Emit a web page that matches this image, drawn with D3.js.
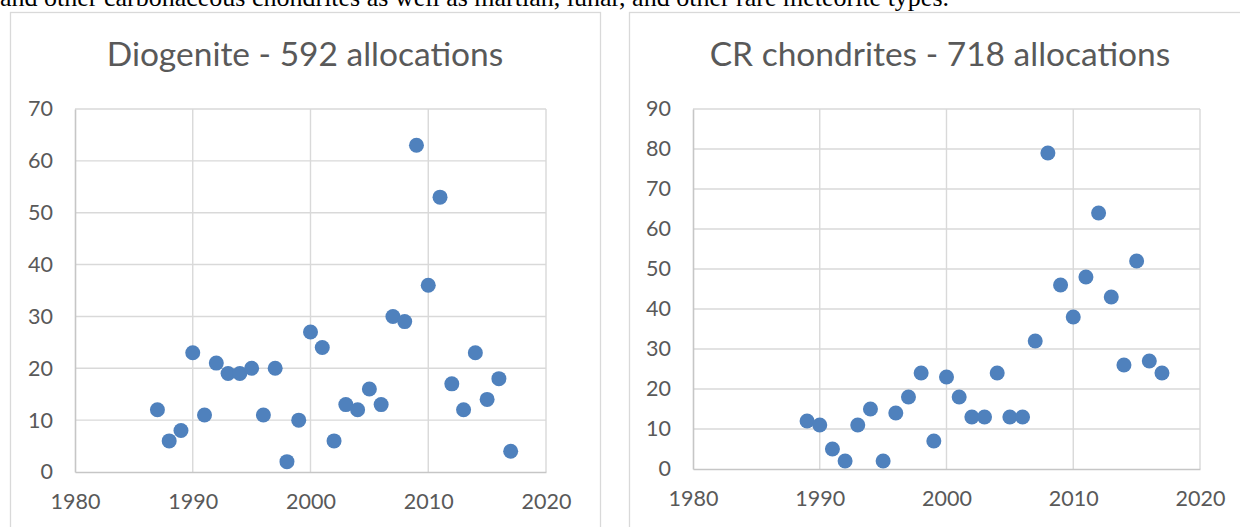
<!DOCTYPE html>
<html>
<head>
<meta charset="utf-8">
<script src="https://cdn.jsdelivr.net/npm/d3@7"></script>
<style>
	body { margin: 0; background: #fff; overflow: hidden; }
	svg { display: block; }
</style>
</head>
<body>
<svg id="chart" width="1240" height="527"></svg>
<script>
// DATA
let dioYears = [1987, 1988, 1989, 1990, 1991, 1992, 1993, 1994, 1995, 1996, 1997, 1998, 1999, 2000, 2001, 2002,
	2003, 2004, 2005, 2006, 2007, 2008, 2009, 2010, 2011, 2012, 2013, 2014, 2015, 2016, 2017];
let dioValues = [12, 6, 8, 23, 11, 21, 19, 19, 20, 11, 20, 2, 10, 27, 24, 6,
	13, 12, 16, 13, 30, 29, 63, 36, 53, 17, 12, 23, 14, 18, 4];

let crYears = [1989, 1990, 1991, 1992, 1993, 1994, 1995, 1996, 1997, 1998, 1999, 2000, 2001, 2002, 2003,
	2004, 2005, 2006, 2007, 2008, 2009, 2010, 2011, 2012, 2013, 2014, 2015, 2016, 2017];
let crValues = [12, 11, 5, 2, 11, 15, 2, 14, 18, 24, 7, 23, 18, 13, 13,
	24, 13, 13, 32, 79, 46, 38, 48, 64, 43, 26, 52, 27, 24];

let xTicks = [1980, 1990, 2000, 2010, 2020];
let dioYTicks = [0, 10, 20, 30, 40, 50, 60, 70];
let crYTicks = [0, 10, 20, 30, 40, 50, 60, 70, 80, 90];

let dioTitle = 'Diogenite - 592 allocations';
let crTitle = 'CR chondrites - 718 allocations';
let topText = 'and other carbonaceous chondrites as well as martian, lunar, and other rare meteorite types.';

let svg = d3.select('#chart');

// text line from the document above, cut off at the top
svg.append('text')
	.attr('x', 0)
	.attr('y', 6)
	.attr('font-family', '"Liberation Serif", "Times New Roman", serif')
	.attr('font-size', 26)
	.attr('fill', '#000')
	.text(topText);

function drawChart(cfg) {
	let g = svg.append('g');

	g.append('rect')
		.attr('x', cfg.box[0] + 0.5)
		.attr('y', cfg.box[1] + 0.5)
		.attr('width', cfg.box[2])
		.attr('height', cfg.box[3])
		.attr('fill', '#fff')
		.attr('stroke', '#d9d9d9')
		.attr('stroke-width', 1.3);

	g.append('text')
		.attr('x', cfg.box[0] + cfg.box[2] / 2)
		.attr('y', 66)
		.attr('text-anchor', 'middle')
		.attr('font-family', 'Lato, "Open Sans", sans-serif')
		.attr('font-size', 33.5)
		.attr('fill', '#595959')
		.text(cfg.title);

	let x = d3.scaleLinear()
		.domain([1980, 2020])
		.range([cfg.left, cfg.right]);

	let y = d3.scaleLinear()
		.domain([0, d3.max(cfg.yTicks)])
		.range([cfg.bottom, cfg.top]);

	// gridlines
	g.append('g')
		.selectAll('line.h')
		.data(cfg.yTicks.slice(1))
		.join('line')
		.attr('x1', cfg.left)
		.attr('x2', cfg.right)
		.attr('y1', d => y(d))
		.attr('y2', d => y(d))
		.attr('stroke', '#d9d9d9')
		.attr('stroke-width', 1.4);

	g.append('g')
		.selectAll('line.v')
		.data(xTicks.slice(1))
		.join('line')
		.attr('x1', d => x(d))
		.attr('x2', d => x(d))
		.attr('y1', cfg.top)
		.attr('y2', cfg.bottom)
		.attr('stroke', '#d9d9d9')
		.attr('stroke-width', 1.4);

	// axes
	let xAxis = d3.axisBottom(x)
		.tickValues(xTicks)
		.tickSize(0)
		.tickPadding(22)
		.tickFormat(d3.format('d'));

	let yAxis = d3.axisLeft(y)
		.tickValues(cfg.yTicks)
		.tickSize(0)
		.tickPadding(22);

	let gx = g.append('g')
		.attr('transform', 'translate(0,' + cfg.bottom + ')')
		.call(xAxis);

	let gy = g.append('g')
		.attr('transform', 'translate(' + cfg.left + ',0)')
		.call(yAxis);

	[gx, gy].forEach(function(a) {
		a.select('.domain')
			.attr('stroke', '#c6c6c6')
			.attr('stroke-width', 1.6);
		a.selectAll('text')
			.attr('font-family', 'Lato, "Open Sans", sans-serif')
			.attr('font-size', 21.5)
			.attr('fill', '#595959');
	});

	gx.selectAll('text').attr('dy', '0.71em');

	// points
	let pts = cfg.years.map((d, i) => [d, cfg.values[i]]);

	g.append('g')
		.selectAll('circle')
		.data(pts)
		.join('circle')
		.attr('cx', d => x(d[0]))
		.attr('cy', d => y(d[1]))
		.attr('r', 7.5)
		.attr('fill', '#4f81bd');
}

drawChart({
	title: dioTitle, years: dioYears, values: dioValues, yTicks: dioYTicks,
	box: [10, 12, 590, 540],
	left: 75, right: 546, top: 109, bottom: 472
});

drawChart({
	title: crTitle, years: crYears, values: crValues, yTicks: crYTicks,
	box: [629, 12, 622, 540],
	left: 693, right: 1200, top: 109, bottom: 469
});
</script>
</body>
</html>
